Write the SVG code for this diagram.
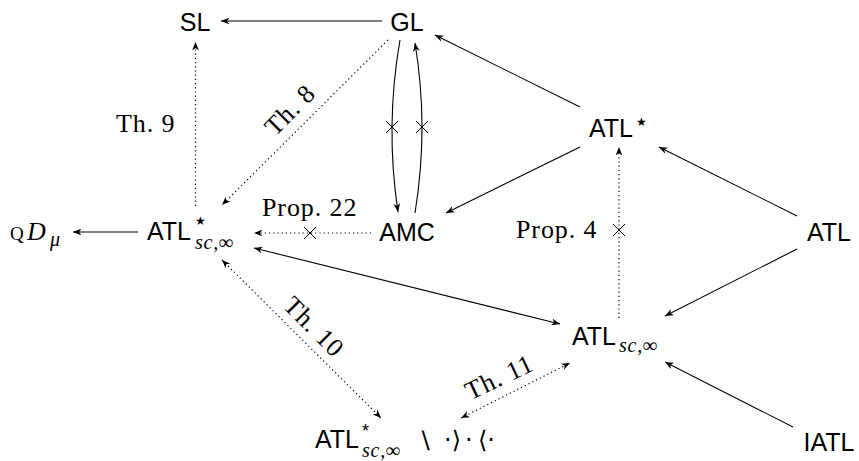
<svg xmlns="http://www.w3.org/2000/svg" width="859" height="461" viewBox="0 0 859 461">
<style>
.n{font-family:"Liberation Sans",Arial,sans-serif;font-size:25px;fill:#000}
.s{font-family:"Liberation Serif","Times New Roman",serif;font-size:26px;fill:#000;letter-spacing:0.9px}
.m{font-family:"Liberation Serif","Times New Roman",serif;font-style:italic;fill:#000;font-size:20px;letter-spacing:0.8px}
.st{font-family:"DejaVu Sans",sans-serif;font-size:12px;fill:#000}
.g{font-family:"DejaVu Sans",sans-serif;fill:#000}
.c{fill:none;stroke:#000;stroke-width:1.1}
.d{fill:none;stroke:#000;stroke-width:1.2;stroke-dasharray:1.2 3}
.x{fill:none;stroke:#000;stroke-width:1}
</style>
<defs>
<marker id="ah" viewBox="0 0 10 8" refX="10" refY="4" markerWidth="8.5" markerHeight="6.8" markerUnits="userSpaceOnUse" orient="auto-start-reverse">
<path d="M0,0 L10,4 L0,8 L3,4 Z" fill="#000"/>
</marker>
</defs>
<g id="connectors">
<line class="c" x1="382" y1="21" x2="221" y2="21" marker-end="url(#ah)"/>
<line class="c" x1="138" y1="232" x2="73" y2="232" marker-end="url(#ah)"/>
<line class="c" x1="580" y1="107" x2="435" y2="35" marker-end="url(#ah)"/>
<line class="c" x1="580" y1="147" x2="446" y2="213" marker-end="url(#ah)"/>
<line class="c" x1="797" y1="216" x2="659" y2="147" marker-end="url(#ah)"/>
<line class="c" x1="797" y1="249" x2="665" y2="316" marker-end="url(#ah)"/>
<line class="c" x1="793" y1="427" x2="665" y2="362" marker-end="url(#ah)"/>
<line class="c" x1="254" y1="248" x2="560" y2="324" marker-start="url(#ah)" marker-end="url(#ah)"/>
<line class="d" x1="371" y1="233" x2="254" y2="233" marker-end="url(#ah)"/>
<line class="d" x1="388" y1="40" x2="222" y2="205" marker-end="url(#ah)"/>
<line class="d" x1="195.5" y1="206" x2="195.5" y2="42" marker-end="url(#ah)"/>
<line class="d" x1="222" y1="260" x2="381" y2="418" marker-start="url(#ah)" marker-end="url(#ah)"/>
<line class="d" x1="461" y1="418" x2="570" y2="363" marker-start="url(#ah)" marker-end="url(#ah)"/>
<line class="d" x1="619" y1="318" x2="619" y2="147" marker-end="url(#ah)"/>
<path class="c" d="M400,40 Q385,126 398,212" marker-end="url(#ah)"/>
<path class="c" d="M415,213 Q429,127 415,43" marker-end="url(#ah)"/>
<path class="x" d="M386,121 L398,133 M398,121 L386,133"/>
<path class="x" d="M416,121 L428,133 M428,121 L416,133"/>
<path class="x" d="M304,227 L316,239 M316,227 L304,239"/>
<path class="x" d="M613,224 L625,236 M625,224 L613,236"/>
</g>
<g id="SL"><text class="n" x="195" y="31" text-anchor="middle">SL</text></g>
<g id="GL"><text class="n" x="407" y="31" text-anchor="middle">GL</text></g>
<g id="ATLstar"><text class="n" x="589" y="137">ATL</text><text class="st" x="636" y="126">★</text></g>
<g id="ATLstar-sc"><text class="n" x="147" y="240">ATL</text><text class="st" x="195" y="225">★</text><text class="m" x="195" y="249">sc,∞</text></g>
<g id="QD"><text x="10" y="240" style="font-family:'Liberation Serif',serif;font-size:19px">Q</text><text class="m" x="27" y="240" style="font-size:26px">D</text><text class="m" x="50" y="246">μ</text></g>
<g id="AMC"><text class="n" x="407" y="241" text-anchor="middle">AMC</text></g>
<g id="ATL"><text class="n" x="829" y="241" text-anchor="middle">ATL</text></g>
<g id="ATL-sc"><text class="n" x="572" y="345">ATL</text><text class="m" x="619" y="352">sc,∞</text></g>
<g id="ATLast-sc-minus"><text class="n" x="315" y="448">ATL</text><text x="362" y="437" style="font-family:'Liberation Sans',sans-serif;font-size:18px">*</text><text class="m" x="362" y="457">sc,∞</text><text class="g" x="417" y="449" style="font-size:24px">∖</text><text class="g" x="444" y="448" style="font-size:24px">·⟩</text><text class="g" x="465" y="448" style="font-size:24px">·</text><text class="g" x="478" y="448" style="font-size:24px">⟨·</text></g>
<g id="IATL"><text class="n" x="829" y="451" text-anchor="middle">IATL</text></g>
<g id="labels">
<text class="s" x="116" y="132">Th. 9</text>
<text class="s" x="0" y="0" text-anchor="middle" transform="translate(296,116) rotate(-45)">Th. 8</text>
<text class="s" x="262" y="216">Prop. 22</text>
<text class="s" x="516" y="238">Prop. 4</text>
<text class="s" x="0" y="0" text-anchor="middle" transform="translate(308,333) rotate(45)">Th. 10</text>
<text class="s" x="0" y="0" text-anchor="middle" transform="translate(503,385) rotate(-25.5)">Th. 11</text>
</g>
</svg>
